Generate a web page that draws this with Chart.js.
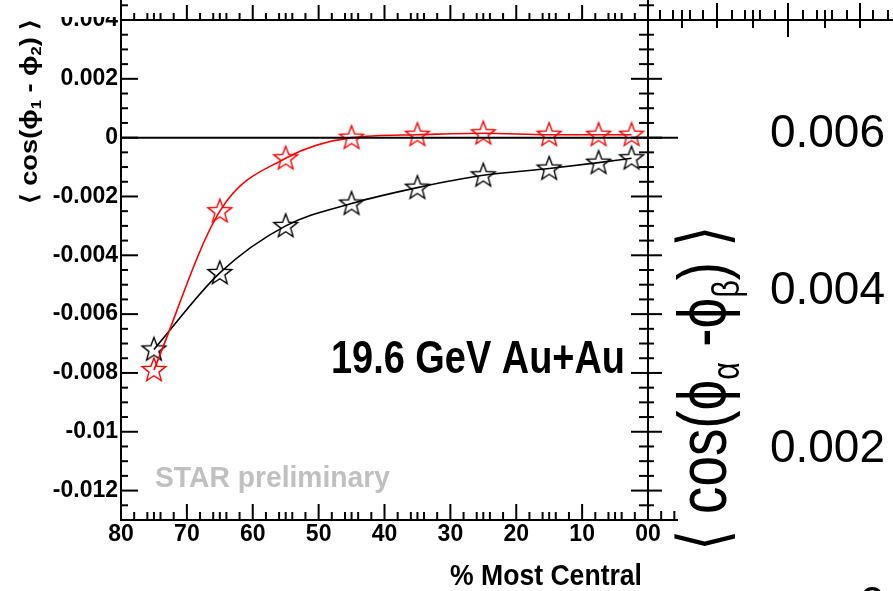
<!DOCTYPE html>
<html><head><meta charset="utf-8">
<script src="https://cdn.jsdelivr.net/npm/chart.js@4/dist/chart.umd.min.js"></script>
<style>
html,body{margin:0;padding:0;background:#fff;}
#wrap{position:relative;width:893px;height:591px;overflow:hidden;background:#fff;}
#c1{position:absolute;left:0;top:0;}
#c2{position:absolute;left:600px;top:0;}
</style></head><body>
<div id="wrap"><canvas id="c1" width="893" height="591"></canvas><canvas id="c2" width="400" height="650"></canvas></div>
<script>
// ---- data ----
const centrality = [75, 65, 55, 45, 35, 25, 15, 7.5, 2.5];
const redSeries = [-0.0079, -0.0025, -0.0007, 0.0000, 0.0001, 0.00015, 0.0001, 0.0001, 0.0001];
const blackSeries = [-0.0072, -0.0046, -0.0030, -0.00224, -0.0017, -0.00128, -0.00105, -0.00085, -0.0007];
const xTickValues = [80, 70, 60, 50, 40, 30, 20, 10, 0];
const xTickLabels = ['80', '70', '60', '50', '40', '30', '20', '10', '00'];
const yTickValues = [0.004, 0.002, 0, -0.002, -0.004, -0.006, -0.008, -0.01, -0.012];
const yTickLabels = ['0.004', '0.002', '0', '-0.002', '-0.004', '-0.006', '-0.008', '-0.01', '-0.012'];
const rightTickValues = [0, 0.002, 0.004, 0.006];
const rightTickLabels = ['0', '0.002', '0.004', '0.006'];

// ---- styling helpers ----
const FAM = "'Liberation Sans', Arial, Helvetica, sans-serif";
// decorative tick marks of the neighbouring panel frame (px, yTop, yBottom)
const frameTopRightTicks = [[660,10,20],[673,10,20],[682,10,28],[690,10,20],[703,10,20],[717,3,28],[732,10,20],[745,10,20],[753,10,28],[760,10,20],[775,10,20],[788,3,37],[803,10,20],[817,10,20],[825,10,28],[832,10,20],[847,10,20],[860,3,28],[873,10,20],[888,10,20]];

function makeStar(color) {
  const c = document.createElement('canvas'); c.width = 30; c.height = 30;
  const g = c.getContext('2d'); g.strokeStyle = color; g.lineWidth = 1.4; g.lineJoin = 'miter';
  const R = 12.5, r = R * 0.42, cx = 15, cy = 15.5;
  g.beginPath();
  for (let i = 0; i < 10; i++) {
    const ang = -Math.PI / 2 + i * Math.PI / 5;
    const rad = i % 2 ? r : R;
    const px = cx + rad * Math.cos(ang), py = cy + rad * Math.sin(ang);
    if (i) g.lineTo(px, py); else g.moveTo(px, py);
  }
  g.closePath(); g.stroke();
  return c;
}
const starRed = makeStar('#ff0000');
const starBlack = makeStar('#000000');

function seg(ctx, x1, y1, x2, y2) { ctx.beginPath(); ctx.moveTo(x1, y1); ctx.lineTo(x2, y2); ctx.stroke(); }
function fitText(ctx, text, font, x, y, width, align, color) {
  ctx.save();
  ctx.font = font; ctx.fillStyle = color; ctx.textBaseline = 'alphabetic'; ctx.textAlign = 'left';
  const w = ctx.measureText(text).width;
  const left = align === 'right' ? x - width : x;
  ctx.translate(left, y); ctx.scale(width / w, 1);
  ctx.fillText(text, 0, 0);
  ctx.restore();
}
function richVertical(ctx, pieces, baseX, startY, length) {
  ctx.save();
  ctx.textBaseline = 'alphabetic'; ctx.textAlign = 'left'; ctx.fillStyle = '#000';
  let total = 0;
  pieces.forEach(p => { ctx.font = p.font; p.w = ctx.measureText(p.t).width; total += p.w; });
  ctx.translate(baseX, startY); ctx.rotate(-Math.PI / 2); ctx.scale(length / total, 1);
  let cx = 0;
  pieces.forEach(p => { ctx.font = p.font; ctx.fillText(p.t, cx, p.dy || 0); cx += p.w; });
  ctx.restore();
}

const framePlugin = {
  id: 'frame',
  afterDraw(chart) {
    const { ctx, chartArea: a, scales: { x: xs, y: ys } } = chart;
    ctx.save();
    // top label is hidden behind the panel above
    ctx.fillStyle = '#fff'; ctx.fillRect(40, 0, a.left - 41, 17);
    ctx.strokeStyle = '#000'; ctx.lineWidth = 2; ctx.lineCap = 'butt';
    // frame lines
    seg(ctx, a.left, 0, a.left, a.bottom + 1);
    seg(ctx, a.right, 0, a.right, a.bottom + 1);
    seg(ctx, a.left - 1, a.bottom, a.right + 30, a.bottom);
    seg(ctx, a.left - 1, a.top, 893, a.top);
    // zero line
    const y0 = ys.getPixelForValue(0);
    seg(ctx, a.left, y0, a.right + 30, y0);
    // y ticks (left inward, shared axis both sides)
    for (let k = -25; k <= 9; k++) {
      const v = k * 0.0005, py = ys.getPixelForValue(v), major = (k % 4 === 0);
      seg(ctx, a.left, py, a.left + (major ? 17 : 7), py);
      seg(ctx, a.right - (major ? 17 : 9), py, a.right + (major ? 14 : 6), py);
    }
    // x ticks bottom (up) and top (up, panel above)
    const offs = [2, 4, 5, 6, 8];
    for (let d = 0; d <= 80; d += 10) {
      const px = xs.getPixelForValue(d);
      seg(ctx, px, a.bottom, px, a.bottom - 16);
      seg(ctx, px, a.top, px, a.top - 15);
      if (d < 80) offs.forEach(o => {
        const q = xs.getPixelForValue(d + o);
        seg(ctx, q, a.bottom, q, a.bottom - 8);
        seg(ctx, q, a.top, q, a.top - 7);
      });
    }
    [-2, -4].forEach(v => { const q = xs.getPixelForValue(v); seg(ctx, q, a.bottom, q, a.bottom - 9); });
    frameTopRightTicks.forEach(t => seg(ctx, t[0], t[1], t[0], t[2]));

    // texts
    fitText(ctx, '19.6 GeV Au+Au', "bold 46px " + FAM, 331, 373, 294, 'left', '#000');
    fitText(ctx, 'STAR preliminary', "bold 30px " + FAM, 155, 487, 235, 'left', '#c0c0c0');
    fitText(ctx, '% Most Central', "bold 29px " + FAM, 642, 585, 192, 'right', '#000');

    const LB = "bold 23px " + FAM, LS = "bold 14px " + FAM;
    richVertical(ctx, [
      { t: '⟨ ', font: LB }, { t: 'cos(ϕ', font: LB }, { t: '1', font: LS, dy: 4 },
      { t: ' - ϕ', font: LB }, { t: '2', font: LS, dy: 4 }, { t: ')', font: LB }, { t: ' ⟩', font: LB }
    ], 37, 204, 185);

    const RT = "68px " + FAM, RS = "38px " + FAM;
    richVertical(ctx, [
      { t: '⟨ ', font: RT }, { t: 'cos(ϕ', font: RT }, { t: 'α', font: RS, dy: 13 },
      { t: ' -ϕ', font: RT }, { t: 'β', font: RS, dy: 13 }, { t: ')', font: RT }, { t: ' ⟩', font: RT }
    ], 726, 551, 326);
    ctx.restore();
  }
};

function noPad(s) { s.paddingTop = 0; s.paddingBottom = 0; s.paddingLeft = 0; s.paddingRight = 0; }

new Chart(document.getElementById('c1'), {
  type: 'line',
  data: {
    datasets: [
      { label: 'red', data: centrality.map((c, i) => ({ x: c, y: redSeries[i] })), borderColor: '#ff0000', borderWidth: 1.6,
        pointStyle: starRed, pointRadius: 12, cubicInterpolationMode: 'monotone', fill: false },
      { label: 'black', data: centrality.map((c, i) => ({ x: c, y: blackSeries[i] })), borderColor: '#000000', borderWidth: 1.6,
        pointStyle: starBlack, pointRadius: 12, cubicInterpolationMode: 'monotone', fill: false }
    ]
  },
  options: {
    responsive: false, animation: false, devicePixelRatio: 1,
    layout: { padding: { top: 20, right: 245, left: 0, bottom: 0 } },
    plugins: { legend: { display: false }, tooltip: { enabled: false } },
    scales: {
      x: {
        type: 'linear', reverse: true, min: 0, max: 80,
        afterBuildTicks: s => { s.ticks = xTickValues.map(v => ({ value: v })); },
        afterFit: s => { s.height = 71; noPad(s); },
        grid: { display: false, drawTicks: false }, border: { display: false },
        ticks: { callback: (v, i) => xTickLabels[i], font: { family: FAM, size: 23, weight: 'bold' }, color: '#000', padding: 1, maxRotation: 0, autoSkip: false }
      },
      y: {
        min: -0.013, max: 0.004,
        afterBuildTicks: s => { s.ticks = yTickValues.map(v => ({ value: v })); },
        afterFit: s => { s.width = 121; noPad(s); },
        grid: { display: false, drawTicks: false }, border: { display: false },
        ticks: { callback: (v, i) => yTickLabels[i], font: { family: FAM, size: 23, weight: 'bold' }, color: '#000', padding: 3, autoSkip: false }
      }
    }
  },
  plugins: [framePlugin]
});

// neighbouring panel whose y axis is just outside the picture
new Chart(document.getElementById('c2'), {
  type: 'line',
  data: { datasets: [{ data: [] }] },
  options: {
    responsive: false, animation: false, devicePixelRatio: 1,
    layout: { padding: 0 },
    plugins: { legend: { display: false }, tooltip: { enabled: false } },
    scales: {
      x: { type: 'linear', display: false, min: 0, max: 1 },
      y: {
        min: -0.0005524, max: 0.0077016,
        afterBuildTicks: s => { s.ticks = rightTickValues.map(v => ({ value: v })); },
        afterFit: s => { s.width = 288; noPad(s); },
        grid: { display: false, drawTicks: false }, border: { display: false },
        ticks: { callback: (v, i) => rightTickLabels[i], font: { family: FAM, size: 46 }, color: '#000', padding: 3, autoSkip: false }
      }
    }
  }
});
</script></body></html>
